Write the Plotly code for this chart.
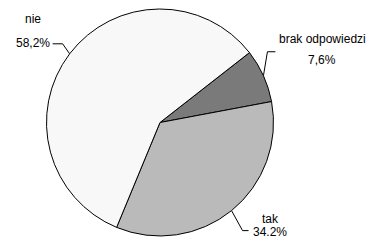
import math
import plotly.graph_objects as go

categories = ["brak odpowiedzi", "tak", "nie"]
values = [7.6, 34.2, 58.2]
value_labels = ["7,6%", "34.2%", "58,2%"]

W, H = 369, 242
CX, CY, R = 160.0, 122.5, 113.5
ROT = 52.0
colors = ["#7a7a7a", "#bababa", "#f8f8f8"]

fig = go.Figure()
fig.add_trace(go.Pie(
    labels=categories, values=values, sort=False, direction="clockwise",
    rotation=ROT, textinfo="none", hoverinfo="label+percent",
    marker=dict(colors=colors, line=dict(color="#000000", width=1)),
    domain=dict(x=[(CX - R) / W, (CX + R) / W], y=[(H - CY - R) / H, (H - CY + R) / H]),
    showlegend=False,
))

# leader-line elbows (style offsets, pixels) and label anchors
elbow = {"brak odpowiedzi": (4, -24, 8), "tak": (11, 20, 6), "nie": (-7, -10, -10)}
text_pos = {"brak odpowiedzi": (322, 39, 60), "tak": (270, 219, 232), "nie": (33, 19, 43)}

total = sum(values)
acc = 0.0
for cat, v, lab in zip(categories, values, value_labels):
    mid = math.radians(ROT + (acc + v / 2) / total * 360)
    acc += v
    x0 = CX + R * math.sin(mid)
    y0 = CY - R * math.cos(mid)
    dx, dy, hx = elbow[cat]
    x1, y1 = x0 + dx, y0 + dy
    x2 = x1 + hx
    fig.add_trace(go.Scatter(x=[x0, x1, x2], y=[y0, y1, y1], mode="lines",
                             line=dict(color="#000000", width=1), hoverinfo="skip",
                             showlegend=False))
    tx, ty1, ty2 = text_pos[cat]
    fig.add_annotation(x=tx, y=ty1, text=cat, showarrow=False, xref="x", yref="y",
                       font=dict(family="Liberation Sans, Arial", size=12, color="#000"))
    fig.add_annotation(x=tx, y=ty2, text=lab, showarrow=False, xref="x", yref="y",
                       font=dict(family="Liberation Sans, Arial", size=12, color="#000"))

fig.update_layout(
    width=W, height=H, margin=dict(l=0, r=0, t=0, b=0),
    paper_bgcolor="#ffffff", plot_bgcolor="rgba(0,0,0,0)",
    xaxis=dict(range=[0, W], visible=False, fixedrange=True),
    yaxis=dict(range=[H, 0], visible=False, fixedrange=True),
)
fig.write_html("out.html", config={"displayModeBar": False},
               post_script="document.body.style.margin='0';document.body.style.overflow='hidden';")
